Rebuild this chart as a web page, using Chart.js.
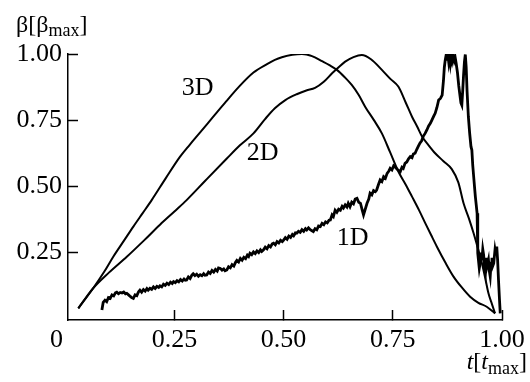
<!DOCTYPE html>
<html>
<head>
<meta charset="utf-8">
<script src="https://cdn.jsdelivr.net/npm/chart.js@4.4.0/dist/chart.umd.min.js"></script>
<style>
  html, body { margin: 0; padding: 0; background: #fff; }
</style>
</head>
<body>
<canvas id="chart" width="530" height="382"></canvas>
<script>
// --- Data (t in t_max, beta in beta_max) ---
const xTicks = [0.25, 0.5, 0.75, 1.0];
const yTicks = [0.25, 0.5, 0.75, 1.0];

const t3D = [0.030, 0.064, 0.090, 0.110, 0.133, 0.156, 0.177, 0.198, 0.230, 0.263, 0.285, 0.307, 0.339, 0.368,
             0.397, 0.431, 0.462, 0.480, 0.496, 0.520, 0.542, 0.565, 0.588, 0.605, 0.622, 0.640, 0.656, 0.672,
             0.687, 0.706, 0.725, 0.744, 0.763, 0.779, 0.794, 0.810, 0.824, 0.838, 0.851, 0.870, 0.889, 0.908,
             0.927, 0.946, 0.965, 0.984];
const b3D = [0.039, 0.115, 0.179, 0.234, 0.291, 0.348, 0.398, 0.448, 0.530, 0.612, 0.657, 0.700, 0.763, 0.820,
             0.875, 0.930, 0.962, 0.978, 0.988, 0.997, 1.000, 0.992, 0.973, 0.958, 0.940, 0.912, 0.883, 0.845,
             0.800, 0.752, 0.700, 0.628, 0.555, 0.508, 0.461, 0.410, 0.362, 0.315, 0.272, 0.213, 0.159, 0.118,
             0.083, 0.060, 0.045, 0.020];

const t2D = [0.030, 0.064, 0.100, 0.141, 0.180, 0.217, 0.250, 0.278, 0.320, 0.370, 0.400, 0.431, 0.458, 0.480,
             0.504, 0.530, 0.552, 0.572, 0.592, 0.611, 0.626, 0.641, 0.660, 0.679, 0.700, 0.725, 0.745, 0.763,
             0.780, 0.794, 0.806, 0.817, 0.832, 0.847, 0.866, 0.885, 0.900, 0.912, 0.924, 0.935, 0.945, 0.954,
             0.962, 0.969, 0.977, 0.984];
const b2D = [0.039, 0.115, 0.174, 0.234, 0.295, 0.355, 0.405, 0.448, 0.520, 0.605, 0.655, 0.700, 0.755, 0.795,
             0.826, 0.848, 0.862, 0.872, 0.895, 0.927, 0.950, 0.971, 0.988, 0.996, 0.980, 0.940, 0.905, 0.876,
             0.815, 0.763, 0.725, 0.688, 0.655, 0.625, 0.595, 0.565, 0.515, 0.436, 0.380, 0.323, 0.265, 0.209,
             0.150, 0.096, 0.055, 0.020];

const t1D = [0.084, 0.087, 0.091, 0.095, 0.099, 0.103, 0.107, 0.111, 0.115, 0.118, 0.122, 0.126, 0.130, 0.134, 0.138,
             0.141, 0.145, 0.149, 0.152, 0.156, 0.160, 0.164, 0.168, 0.171, 0.175, 0.179, 0.183, 0.187, 0.190, 0.194,
             0.198, 0.202, 0.206, 0.210, 0.214, 0.217, 0.221, 0.225, 0.229, 0.233, 0.237, 0.241, 0.245, 0.248, 0.252,
             0.256, 0.260, 0.264, 0.268, 0.272, 0.275, 0.278, 0.282, 0.286, 0.290, 0.293, 0.297, 0.301, 0.305, 0.309,
             0.313, 0.317, 0.320, 0.324, 0.328, 0.332, 0.336, 0.340, 0.344, 0.348, 0.351, 0.355, 0.359, 0.363, 0.366,
             0.370, 0.374, 0.378, 0.382, 0.386, 0.390, 0.393, 0.397, 0.401, 0.405, 0.409, 0.413, 0.417, 0.420, 0.423,
             0.427, 0.431, 0.435, 0.439, 0.443, 0.447, 0.450, 0.454, 0.458, 0.462, 0.466, 0.470, 0.474, 0.477, 0.481,
             0.485, 0.489, 0.493, 0.497, 0.500, 0.504, 0.508, 0.512, 0.516, 0.520, 0.523, 0.527, 0.530, 0.534, 0.538,
             0.542, 0.546, 0.550, 0.553, 0.557, 0.561, 0.565, 0.568, 0.572, 0.576, 0.580, 0.584, 0.588, 0.592, 0.596,
             0.600, 0.604, 0.607, 0.611, 0.614, 0.618, 0.622, 0.626, 0.630, 0.634, 0.637, 0.641, 0.645, 0.648, 0.652,
             0.656, 0.660, 0.664, 0.668, 0.672, 0.676, 0.680, 0.683, 0.687, 0.691, 0.695, 0.698, 0.702, 0.706, 0.710,
             0.713, 0.717, 0.721, 0.725, 0.729, 0.733, 0.737, 0.741, 0.744, 0.748, 0.752, 0.755, 0.759, 0.763, 0.767,
             0.771, 0.774, 0.778, 0.782, 0.786, 0.790, 0.794, 0.797, 0.801, 0.805, 0.808, 0.812, 0.816, 0.820, 0.824,
             0.828, 0.832, 0.836, 0.840, 0.844, 0.847, 0.851, 0.855, 0.859, 0.863, 0.866, 0.868, 0.870, 0.872, 0.874,
             0.876, 0.878, 0.880, 0.882, 0.884, 0.886, 0.889, 0.891, 0.893, 0.895, 0.898, 0.901, 0.904, 0.906, 0.908,
             0.910, 0.912, 0.914, 0.916, 0.918, 0.920, 0.923, 0.926, 0.929, 0.931, 0.933, 0.935, 0.937, 0.939, 0.941,
             0.943, 0.944, 0.945, 0.948, 0.950, 0.952, 0.954, 0.956, 0.958, 0.960, 0.962, 0.964, 0.966, 0.969, 0.971,
             0.973, 0.975, 0.977, 0.979, 0.981, 0.984, 0.986, 0.988, 0.990, 0.992, 0.994, 0.996];
const b1D = [0.033, 0.062, 0.070, 0.064, 0.080, 0.077, 0.090, 0.086, 0.098, 0.100, 0.094, 0.099, 0.097, 0.101, 0.094,
             0.096, 0.090, 0.084, 0.080, 0.077, 0.090, 0.087, 0.102, 0.108, 0.100, 0.110, 0.104, 0.114, 0.108, 0.115,
             0.111, 0.120, 0.114, 0.122, 0.118, 0.124, 0.120, 0.130, 0.126, 0.134, 0.129, 0.138, 0.133, 0.140, 0.136,
             0.144, 0.139, 0.148, 0.142, 0.150, 0.145, 0.146, 0.158, 0.152, 0.165, 0.170, 0.163, 0.168, 0.160, 0.166,
             0.162, 0.170, 0.164, 0.165, 0.176, 0.171, 0.182, 0.176, 0.186, 0.180, 0.192, 0.190, 0.183, 0.188, 0.181,
             0.184, 0.196, 0.192, 0.204, 0.199, 0.213, 0.220, 0.214, 0.228, 0.221, 0.232, 0.227, 0.240, 0.235, 0.247,
             0.242, 0.252, 0.246, 0.256, 0.250, 0.260, 0.254, 0.260, 0.270, 0.264, 0.276, 0.271, 0.283, 0.285, 0.279,
             0.291, 0.286, 0.296, 0.291, 0.297, 0.306, 0.300, 0.312, 0.307, 0.318, 0.313, 0.324, 0.323, 0.330, 0.326,
             0.336, 0.330, 0.340, 0.335, 0.343, 0.336, 0.332, 0.329, 0.340, 0.336, 0.350, 0.348, 0.360, 0.355, 0.366,
             0.362, 0.372, 0.373, 0.392, 0.386, 0.410, 0.402, 0.414, 0.410, 0.424, 0.418, 0.430, 0.422, 0.436, 0.423,
             0.440, 0.434, 0.452, 0.455, 0.440, 0.436, 0.410, 0.392, 0.414, 0.436, 0.452, 0.474, 0.468, 0.484, 0.480,
             0.486, 0.506, 0.524, 0.518, 0.536, 0.530, 0.549, 0.558, 0.568, 0.562, 0.578, 0.574, 0.566, 0.560, 0.555,
             0.572, 0.568, 0.587, 0.592, 0.604, 0.612, 0.608, 0.622, 0.625, 0.640, 0.650, 0.663, 0.672, 0.690, 0.700,
             0.713, 0.728, 0.738, 0.752, 0.766, 0.776, 0.798, 0.826, 0.832, 0.845, 0.900, 0.950, 0.977, 0.995, 0.975,
             0.998, 0.970, 0.995, 0.965, 0.990, 0.972, 0.995, 0.975, 0.985, 0.965, 0.930, 0.880, 0.840, 0.815, 0.807,
             0.860, 0.920, 0.970, 0.998, 0.950, 0.860, 0.763, 0.700, 0.650, 0.637, 0.580, 0.540, 0.500, 0.461, 0.430,
             0.398, 0.300, 0.247, 0.190, 0.209, 0.250, 0.220, 0.262, 0.240, 0.190, 0.172, 0.230, 0.200, 0.222, 0.180,
             0.159, 0.210, 0.230, 0.200, 0.209, 0.260, 0.240, 0.272, 0.220, 0.146, 0.080, 0.020];

// curve labels, placed at data coordinates
const curveNames = ["3D", "2D", "1D"];
const curveLabelT = [0.303, 0.452, 0.658];
const curveLabelB = [0.870, 0.625, 0.304];

const SERIF = '"Liberation Serif", "Times New Roman", Times, serif';
const TICK_SIZE = 26;
const X_MIN = 0.0064;

function toPoints(ts, bs) {
    return ts.map((t, i) => ({ x: t, y: bs[i] }));
}

// draws a run of text pieces (main / subscript) left to right
function drawParts(ctx, x, y, parts) {
    parts.forEach(p => {
        ctx.font = `${p.italic ? "italic " : ""}${p.size}px ${SERIF}`;
        ctx.fillText(p.text, x, y + (p.dy || 0));
        x += ctx.measureText(p.text).width;
    });
    return x;
}
function measureParts(ctx, parts) {
    let w = 0;
    parts.forEach(p => {
        ctx.font = `${p.italic ? "italic " : ""}${p.size}px ${SERIF}`;
        w += ctx.measureText(p.text).width;
    });
    return w;
}

const textPlugin = {
    id: "figureText",
    afterDraw(chart) {
        const ctx = chart.ctx;
        const xs = chart.scales.x, ys = chart.scales.y;
        ctx.save();
        ctx.fillStyle = "#000";

        // curve names
        ctx.font = `${TICK_SIZE}px ${SERIF}`;
        ctx.textAlign = "center";
        ctx.textBaseline = "middle";
        curveNames.forEach((name, i) => {
            ctx.fillText(name, xs.getPixelForValue(curveLabelT[i]), ys.getPixelForValue(curveLabelB[i]));
        });

        // lone "0" at the corner, left of the y axis
        ctx.textAlign = "right";
        ctx.fillText("0", xs.left - 5, xs.top + 20);

        // axis titles
        ctx.textAlign = "left";
        ctx.textBaseline = "alphabetic";
        drawParts(ctx, 16, 31.5, [
            { text: "β[β", size: 24 },
            { text: "max", size: 18, dy: 4.5 },
            { text: "]", size: 24 }
        ]);
        const xTitle = [
            { text: "t", size: 24, italic: true },
            { text: "[", size: 24 },
            { text: "t", size: 24, italic: true },
            { text: "max", size: 18, dy: 5 },
            { text: "]", size: 24 }
        ];
        drawParts(ctx, 527 - measureParts(ctx, xTitle), 368.5, xTitle);
        ctx.restore();
    }
};

const lineStyle = (width, smooth) => ({
    borderColor: "#000",
    borderWidth: width,
    pointRadius: 0,
    fill: false,
    cubicInterpolationMode: smooth ? "monotone" : "default",
    tension: 0
});

new Chart(document.getElementById("chart"), {
    type: "line",
    data: {
        datasets: [
            { label: "3D", data: toPoints(t3D, b3D), ...lineStyle(2, true) },
            { label: "2D", data: toPoints(t2D, b2D), ...lineStyle(2, true) },
            { label: "1D", data: toPoints(t1D, b1D), ...lineStyle(2.8, false) }
        ]
    },
    options: {
        responsive: false,
        animation: false,
        layout: { padding: { left: 0, right: 28, top: 54, bottom: 0 } },
        plugins: { legend: { display: false }, tooltip: { enabled: false } },
        scales: {
            x: {
                type: "linear",
                min: X_MIN,
                max: 1.0,
                afterFit: s => { s.height = 62; s.paddingLeft = 0; s.paddingRight = 0; },
                afterBuildTicks: s => { s.ticks = xTicks.map(v => ({ value: v })); },
                grid: { drawOnChartArea: false, tickLength: -10, tickColor: "#000", tickWidth: 1.5 },
                border: { display: true, color: "#000", width: 1.5 },
                ticks: {
                    color: "#000",
                    font: { family: SERIF, size: TICK_SIZE },
                    padding: 15,
                    maxRotation: 0,
                    autoSkip: false,
                    callback: v => v.toFixed(2)
                }
            },
            y: {
                min: -0.005,
                max: 1.0,
                afterFit: s => { s.width = 68; s.paddingTop = 0; s.paddingBottom = 0; },
                afterBuildTicks: s => { s.ticks = yTicks.map(v => ({ value: v })); },
                grid: { drawOnChartArea: false, tickLength: -10, tickColor: "#000", tickWidth: 1.5 },
                border: { display: true, color: "#000", width: 1.5 },
                ticks: {
                    color: "#000",
                    font: { family: SERIF, size: TICK_SIZE },
                    padding: 16,
                    autoSkip: false,
                    callback: v => v.toFixed(2)
                }
            }
        }
    },
    plugins: [textPlugin]
});
</script>
</body>
</html>
